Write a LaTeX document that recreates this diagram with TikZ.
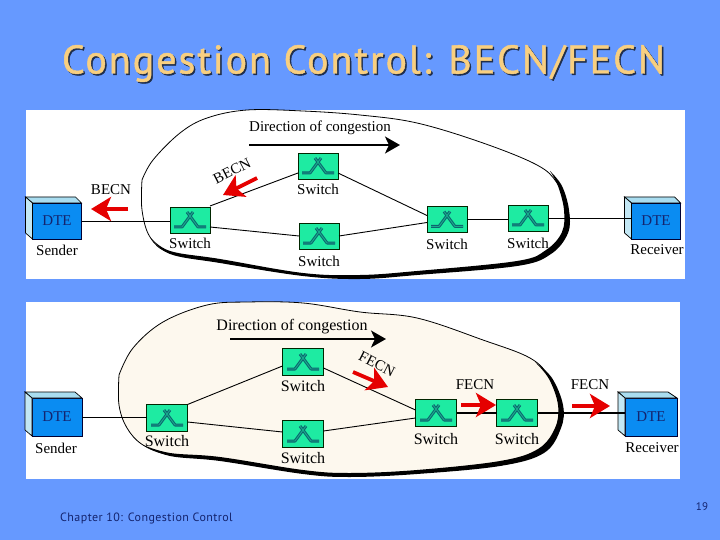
\documentclass[tikz,border=0pt]{standalone}
\usepackage{fontspec}
\setmainfont{Liberation Serif}
\newfontfamily\titlefont[FakeBold=1.2, LetterSpace=5]{PT Sans}
\newfontfamily\footfont[LetterSpace=3.6]{PT Sans}
\usetikzlibrary{arrows.meta}
\definecolor{slidebg}{HTML}{6699FF}
\definecolor{titlefg}{HTML}{F8CF80}
\definecolor{switchfg}{HTML}{1EEBA2}
\definecolor{glyphfg}{HTML}{0E6470}
\definecolor{dtefront}{HTML}{0A8CF2}
\definecolor{dtetop}{HTML}{A9DDF0}
\definecolor{blobfg}{HTML}{FDF8EE}
\definecolor{footfg}{HTML}{14246E}
\tikzset{
    switchbox/.style={draw=black!85!green, line width=0.8pt, fill=switchfg, minimum width=40pt, minimum height=26pt, inner sep=0pt, outer sep=0pt,
        path picture={
            \begin{scope}[shift={(path picture bounding box.center)}]
                \draw[glyphfg, line width=3pt, line join=round] (-16,7) -- (-8,7) -- (3,-8);
                \draw[glyphfg, line width=3pt, line join=round] (16,7) -- (8,7) -- (-3,-8);
                \draw[switchfg!55!glyphfg, line width=0.9pt] (-16,7) -- (-8,7) -- (3,-8);
                \draw[switchfg!55!glyphfg, line width=0.9pt] (16,7) -- (8,7) -- (-3,-8);
            \end{scope}
        }},
    dtebox/.style={draw=black!80!blue, line width=0.8pt, fill=dtefront, text=footfg, minimum width=49pt, minimum height=36pt, inner sep=0pt, outer sep=0pt, font=\fontsize{15}{17}\selectfont},
    lbl/.style={inner sep=0pt, font=\fontsize{15}{17}\selectfont},
    lblb/.style={inner sep=0pt, font=\fontsize{16}{18}\selectfont},
    linkline/.style={black, line width=0.9pt},
    blobline/.style={black, line width=0.8pt},
    redarrow/.style={red!90!black, line width=3.8pt, -{Stealth[length=20pt, width=24pt, inset=5pt]}},
    dirarrow/.style={black, line width=2pt, -{Stealth[length=15pt, width=17pt, inset=4pt]}}
}
\newcommand{\dteface}[1]{
    \draw[fill=dtetop, line width=0.7pt] (#1.north west) -- ++(-7,-6) -- ++(50,0) -- (#1.north east) -- cycle;
    \draw[fill=dtetop!70!white, line width=0.7pt] (#1.north west) -- ++(-7,-6) -- ([shift={(-7,-6)}]#1.south west) -- (#1.south west) -- cycle;
}
\begin{document}
\begin{tikzpicture}[x=1pt, y=-1pt]
    \fill[slidebg] (0,0) rectangle (720,540);
    \useasboundingbox (0,0) rectangle (720,540);

    \node[text=black!70!slidebg, font=\titlefont\fontsize{40}{46}\selectfont] (titleshadow) at (365,65) {Congestion Control: BECN/FECN};
    \node[text=titlefg, font=\titlefont\fontsize{40}{46}\selectfont] (title) at (363.5,63.5) {Congestion Control: BECN/FECN};

    \fill[white] (26,110) rectangle (685,279);
    \fill[white] (26,302) rectangle (680,479);

    \draw[blobline] plot[smooth, tension=0.6] coordinates {(142,180) (153,160) (180,133) (207,118) (247,110) (303,111) (360,115) (417,123) (483,143) (537,165) (557,183) (568,210) (567,233) (550,253) (517,265) (417,273) (360,277) (303,275) (220,262) (170,253) (150,237) (142,210) (142,180)};
    \fill[black] plot[smooth, tension=0.6] coordinates {(550,171) (562,186) (569,210) (568,233) (551,254) (517,266) (417,275) (360,279) (303,276) (220,263) (170,254) (150,237)}
        -- plot[smooth, tension=0.6] coordinates {(150,237) (170,251) (220,259) (303,273) (360,275) (417,271) (517,261) (546,250) (562,232) (564,210) (558,186) (550,171)} -- cycle;

    \draw[blobline, fill=blobfg] plot[smooth, tension=0.6] coordinates {(119,375) (133,348) (163,322) (207,305) (247,302) (303,303) (360,312) (417,318) (483,340) (530,358) (550,378) (562,405) (560,428) (543,452) (500,465) (417,472) (350,475) (303,472) (220,460) (170,455) (143,445) (127,428) (119,405) (119,375)};
    \fill[black] plot[smooth, tension=0.6] coordinates {(535,362) (552,378) (563,405) (561,428) (544,453) (500,466) (417,474) (350,477) (303,474) (220,461) (170,456) (143,445)}
        -- plot[smooth, tension=0.6] coordinates {(143,445) (170,453) (220,457) (303,470) (350,473) (417,470) (500,461) (538,449) (555,428) (558,405) (549,379) (535,362)} -- cycle;

    \node[dtebox] (asender) at (57,221) {DTE};
    \node[dtebox] (areceiver) at (656,221) {DTE};
    \node[dtebox, minimum width=50pt, minimum height=38pt] (bsender) at (57,417) {DTE};
    \node[dtebox, minimum width=52pt, minimum height=38pt] (breceiver) at (651,417) {DTE};
    \foreach \n in {asender, areceiver, bsender, breceiver} {
        \dteface{\n}
    }

    \foreach \n/\x/\y/\ly in {1/190/220/243, 2/318/166/189, 3/319/236/261, 4/447/219.5/244, 5/528/218/243} {
        \node[switchbox] (a\n) at (\x,\y) {};
        \node[lbl] (alabel\n) at (\x,\ly) {Switch};
    }
    \foreach \n/\x/\y/\ly in {1/167/418/441, 2/303/362/386, 3/303/434/458, 4/436/413/439, 5/517/413/439} {
        \node[switchbox, minimum width=41pt, minimum height=27pt] (b\n) at (\x,\y) {};
        \node[lblb] (blabel\n) at (\x,\ly) {Switch};
    }

    \node[lbl] (asenderlabel) at (57,250) {Sender};
    \node[lbl] (areceiverlabel) at (657,250) {Receiver};
    \node[lbl] (bsenderlabel) at (56,448) {Sender};
    \node[lbl] (breceiverlabel) at (652,448) {Receiver};

    \draw[linkline] (asender.east) -- (asender.east -| a1.west);
    \draw[linkline] ([yshift=1pt]a1.north east) -- ([yshift=-7pt]a2.west);
    \draw[linkline] ([yshift=-7pt]a1.east) -- (a3.west);
    \draw[linkline] ([yshift=-7pt]a2.east) -- ([yshift=4pt]a4.west);
    \draw[linkline] (a3.east) -- ([yshift=-3pt]a4.west);
    \draw[linkline] (a4.east) -- (a4.east -| a5.west);
    \draw[linkline] (a5.east) -- (a5.east -| areceiver.west);

    \draw[linkline] (bsender.east) -- (bsender.east -| b1.west);
    \draw[linkline] (b1.north east) -- ([yshift=-4pt]b2.west);
    \draw[linkline] ([yshift=-4pt]b1.east) -- ([yshift=2pt]b3.west);
    \draw[linkline] ([yshift=-6pt]b2.east) -- ([yshift=3pt]b4.west);
    \draw[linkline] ([yshift=3pt]b3.east) -- ([yshift=-5pt]b4.west);
    \draw[linkline, line width=1.3pt] (b4.east) -- (b5.west);
    \draw[linkline, line width=1.3pt] (b5.east) -- (b5.east -| breceiver.west);

    \node[lbl] (adirlabel) at (320,128) {Direction of congestion};
    \coordinate (adirstart) at (249,145);
    \coordinate (adirend) at (400,145);
    \draw[dirarrow] (adirstart) -- (adirend);
    \node[lblb] (bdirlabel) at (292,327) {Direction of congestion};
    \coordinate (bdirstart) at (230,339);
    \coordinate (bdirend) at (386,339);
    \draw[dirarrow] (bdirstart) -- (bdirend);

    \node[lbl] (abecn) at (111,190) {BECN};
    \node[lbl, rotate=27] (abecnup) at (232,171) {BECN};
    \coordinate (abecnatail) at (128,209);
    \coordinate (abecnahead) at (91,209);
    \draw[redarrow] (abecnatail) -- (abecnahead);
    \coordinate (abecnbtail) at (257,178);
    \coordinate (abecnbhead) at (223,195);
    \draw[redarrow] (abecnbtail) -- (abecnbhead);

    \node[lbl, rotate=-27] (bfecndown) at (377,364) {FECN};
    \node[lbl] (bfecna) at (475,385) {FECN};
    \node[lbl] (bfecnb) at (590,385) {FECN};
    \coordinate (bfecnatail) at (353,372);
    \coordinate (bfecnahead) at (388,387);
    \draw[redarrow] (bfecnatail) -- (bfecnahead);
    \coordinate (bfecnbtail) at (461,405);
    \coordinate (bfecnbhead) at (496,405);
    \draw[redarrow] (bfecnbtail) -- (bfecnbhead);
    \coordinate (bfecnctail) at (572,406);
    \coordinate (bfecnchead) at (610,406);
    \draw[redarrow] (bfecnctail) -- (bfecnchead);

    \node[text=footfg, inner sep=0pt, anchor=west, font=\footfont\fontsize{12}{14}\selectfont] (chapter) at (60,518) {Chapter 10: Congestion Control};
    \node[text=footfg, inner sep=0pt, font=\footfont\fontsize{11}{13}\selectfont] (pagenum) at (702,507) {19};
\end{tikzpicture}
\end{document}
